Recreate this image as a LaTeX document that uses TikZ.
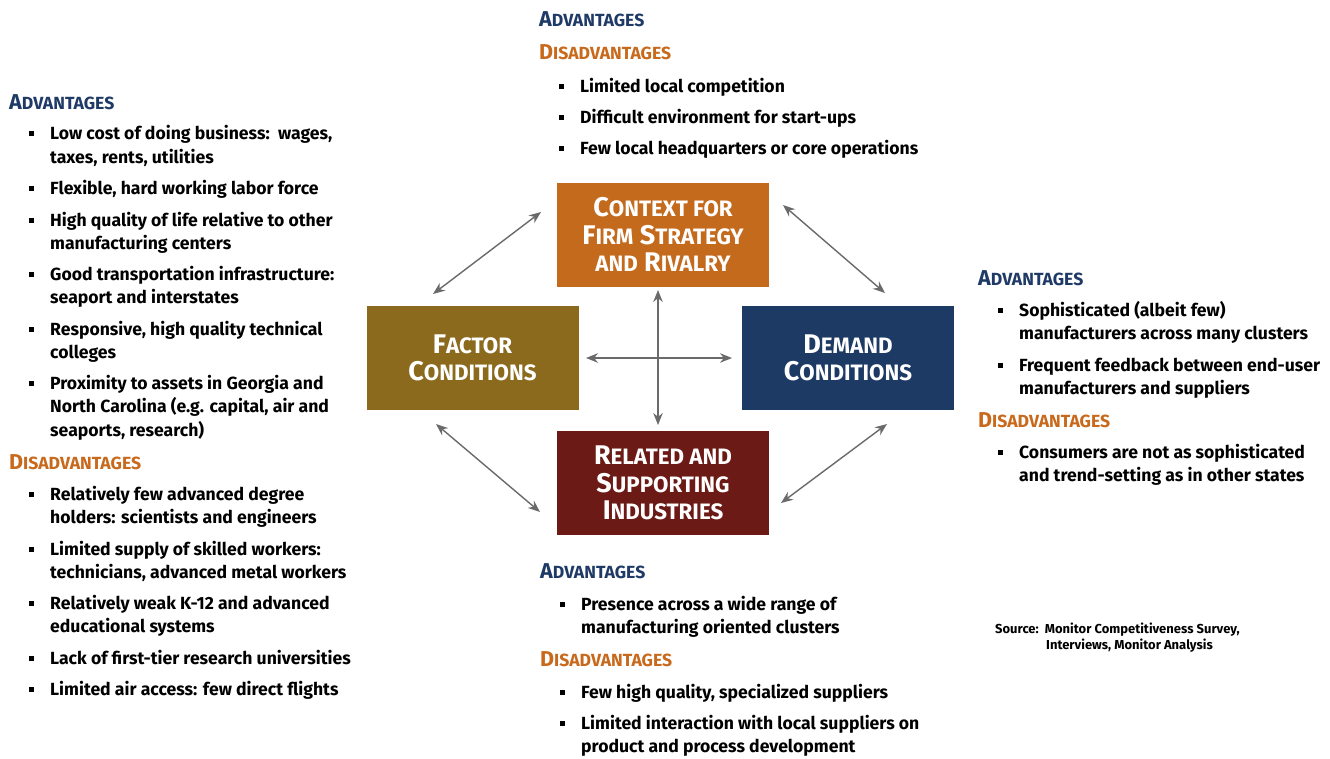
\documentclass[tikz,border=0pt]{standalone}
\usepackage{fontspec}
\setmainfont{Fira Sans}
\usetikzlibrary{arrows.meta}
\definecolor{ctxorange}{HTML}{C46A1D}
\definecolor{factorgold}{HTML}{8B6A1E}
\definecolor{demandblue}{HTML}{1D3A64}
\definecolor{relatedred}{HTML}{6B1A16}
\definecolor{advblue}{HTML}{1F3A66}
\definecolor{disorange}{HTML}{C8691C}
\definecolor{arrgray}{HTML}{6A6A6A}
\newcommand\bsc[1]{{\fontsize{22.3}{22.3}\selectfont #1}}
\newcommand\hsc[1]{{\fontsize{17.6}{17.6}\selectfont #1}}
\newcommand\entry[4]{\node[bul] (#1b) at (#2-19,#3) {}; \node[txt] (#1) at (#2,#3) {#4};}
\newcommand\cont[4]{\node[txt] (#1) at (#2,#3) {#4};}
\tikzset{
 txt/.style={anchor=mid west, yshift=-3.5pt, font=\fontsize{17.6}{20}\selectfont\bfseries, inner sep=0pt},
 hd/.style={anchor=mid west, yshift=-3.5pt, font=\fontsize{21.5}{20}\selectfont\bfseries, inner sep=0pt},
 adv/.style={hd, text=advblue},
 dis/.style={hd, text=disorange},
 bul/.style={fill=black, minimum size=5pt, inner sep=0pt},
 srcs/.style={anchor=mid west, yshift=-2.5pt, font=\fontsize{13}{15}\selectfont\bfseries, inner sep=0pt},
 fbox/.style={minimum width=212pt, minimum height=104pt, inner sep=0pt, align=center, text=white, font=\fontsize{27}{27.5}\selectfont\bfseries},
 arr/.style={draw=arrgray, line width=1.4pt, {Stealth[length=12pt,width=9.5pt]}-{Stealth[length=12pt,width=9.5pt]}}
}
\begin{document}
\begin{tikzpicture}[x=1pt,y=-1pt]
\useasboundingbox[fill=white] (0,0) rectangle (1330,758);

% boxes
\node[fbox, fill=ctxorange] (ctx) at (663,234.5) {C\bsc{ONTEXT FOR}\\F\bsc{IRM} S\bsc{TRATEGY}\\\bsc{AND} R\bsc{IVALRY}};
\node[fbox, fill=factorgold] (fac) at (472.5,358) {F\bsc{ACTOR}\\C\bsc{ONDITIONS}};
\node[fbox, fill=demandblue] (dem) at (848,358) {D\bsc{EMAND}\\C\bsc{ONDITIONS}};
\node[fbox, fill=relatedred] (rel) at (663,483) {R\bsc{ELATED AND}\\S\bsc{UPPORTING}\\I\bsc{NDUSTRIES}};

% arrow end points
\coordinate (a1s) at (433,294); \coordinate (a1e) at (541,212);
\coordinate (a2s) at (783,205); \coordinate (a2e) at (885,293);
\coordinate (a3s) at (436,424); \coordinate (a3e) at (540,512);
\coordinate (a4s) at (887,424); \coordinate (a4e) at (781,503);
\coordinate (vs) at (658,290); \coordinate (ve) at (658,425);
\coordinate (hs) at (586,358); \coordinate (he) at (732,358);
\draw[arr] (a1s) -- (a1e);
\draw[arr] (a2s) -- (a2e);
\draw[arr] (a3s) -- (a3e);
\draw[arr] (a4s) -- (a4e);
\draw[arr] (vs) -- (ve);
\draw[arr] (hs) -- (he);

% left block
\node[adv] (ladv) at (9,103) {A\hsc{DVANTAGES}};
\entry{l1}{50}{133}{Low cost of doing business:\ \ wages,}
\cont{l1c}{50}{157}{taxes, rents, utilities}
\entry{l2}{50}{188}{Flexible, hard working labor force}
\entry{l3}{50}{220}{High quality of life relative to other}
\cont{l3c}{50}{243}{manufacturing centers}
\entry{l4}{50}{274}{Good transportation infrastructure:}
\cont{l4c}{50}{297}{seaport and interstates}
\entry{l5}{50}{329}{Responsive, high quality technical}
\cont{l5c}{50}{352}{colleges}
\entry{l6}{50}{383}{Proximity to assets in Georgia and}
\cont{l6c}{50}{406}{North Carolina (e.g. capital, air and}
\cont{l6d}{50}{430}{seaports, research)}
\node[dis] (ldis) at (9,463) {D\hsc{ISADVANTAGES}};
\entry{l7}{50}{494}{Relatively few advanced degree}
\cont{l7c}{50}{517}{holders: scientists and engineers}
\entry{l8}{50}{549}{Limited supply of skilled workers:}
\cont{l8c}{50}{572}{technicians, advanced metal workers}
\entry{l9}{50}{603}{Relatively weak K-12 and advanced}
\cont{l9c}{50}{626}{educational systems}
\entry{l10}{50}{658}{Lack of first-tier research universities}
\entry{l11}{50}{689}{Limited air access: few direct flights}

% top block
\node[adv] (tadv) at (539,20) {A\hsc{DVANTAGES}};
\node[dis] (tdis) at (539,53) {D\hsc{ISADVANTAGES}};
\entry{t1}{580}{86}{Limited local competition}
\entry{t2}{580}{117}{Difficult environment for start-ups}
\entry{t3}{580}{148}{Few local headquarters or core operations}

% right block
\node[adv] (radv) at (978,279) {A\hsc{DVANTAGES}};
\entry{r1}{1019}{310}{Sophisticated (albeit few)}
\cont{r1c}{1019}{333}{manufacturers across many clusters}
\entry{r2}{1019}{365}{Frequent feedback between end-user}
\cont{r2c}{1019}{388}{manufacturers and suppliers}
\node[dis] (rdis) at (978,421) {D\hsc{ISADVANTAGES}};
\entry{r3}{1019}{452}{Consumers are not as sophisticated}
\cont{r3c}{1019}{475}{and trend-setting as in other states}

% bottom block
\node[adv] (badv) at (540,572) {A\hsc{DVANTAGES}};
\entry{b1}{581}{604}{Presence across a wide range of}
\cont{b1c}{581}{627}{manufacturing oriented clusters}
\node[dis] (bdis) at (540,660) {D\hsc{ISADVANTAGES}};
\entry{b2}{581}{692}{Few high quality, specialized suppliers}
\entry{b3}{581}{723}{Limited interaction with local suppliers on}
\cont{b3c}{581}{746}{product and process development}

% source
\node[srcs] (src1) at (995,628) {Source:\ \ Monitor Competitiveness Survey,};
\node[srcs] (src2) at (1046,644) {Interviews, Monitor Analysis};
\end{tikzpicture}
\end{document}
